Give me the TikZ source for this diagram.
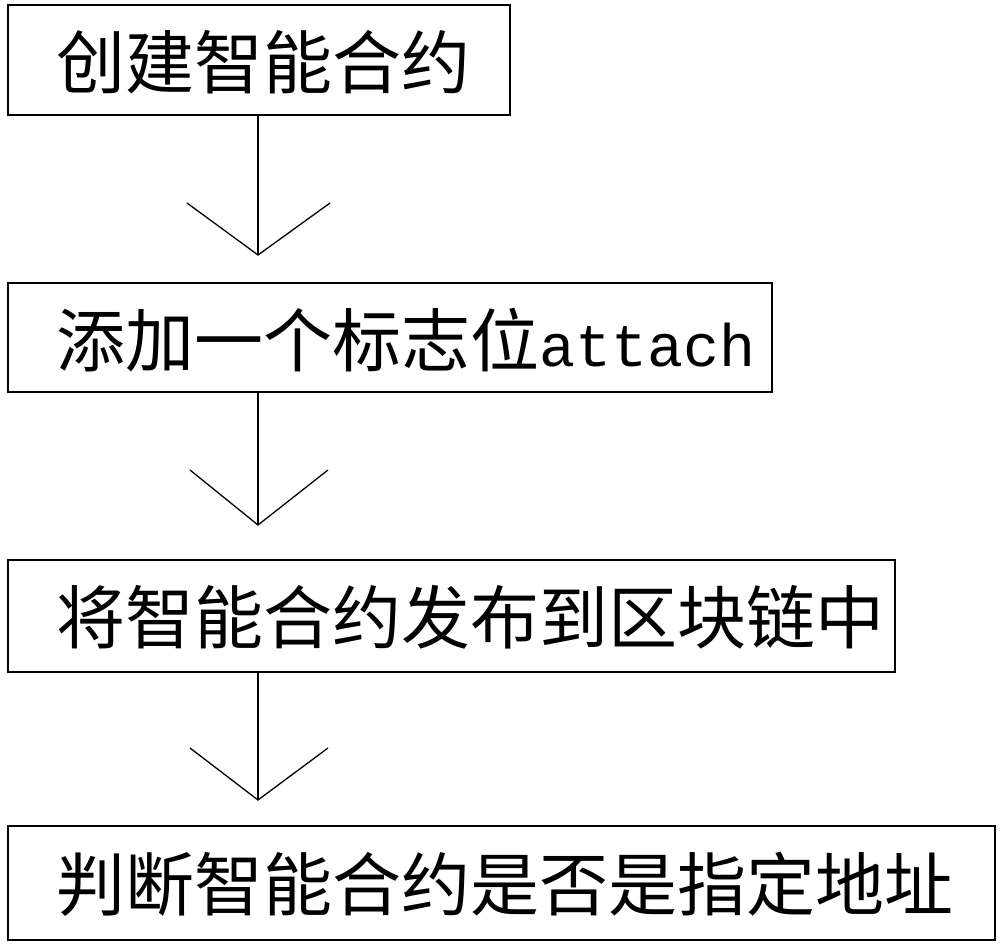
\documentclass[tikz,border=0pt]{standalone}
\usepackage{fontspec}
\newfontfamily\cjk{Noto Sans CJK SC}
\newfontfamily\mono{Liberation Mono}
\begin{document}
\begin{tikzpicture}[x=1pt,y=-1pt,
  box/.style={draw,line width=1.5pt},
  lbl/.style={anchor=west,inner sep=0pt,font=\cjk\fontsize{69}{69}\selectfont},
  conn/.style={line width=1.3pt}]
\useasboundingbox (0,0) rectangle (1000,950);
\draw[box] (8,5) rectangle (510,115);
\draw[box] (8,283) rectangle (772,392);
\draw[box] (8,560) rectangle (895,672);
\draw[box] (8,826) rectangle (995,940);
\node[lbl] (t1) at (56,62) {创建智能合约};
\node[lbl] (t2) at (56,340) {添加一个标志位{\mono\fontsize{60}{60}\selectfont attach}};
\node[lbl] (t3) at (56,617) {将智能合约发布到区块链中};
\node[lbl] (t4) at (56,884) {判断智能合约是否是指定地址};
\coordinate (a1) at (258,115); \coordinate (b1) at (258,255);
\coordinate (a2) at (258,392); \coordinate (b2) at (258,525);
\coordinate (a3) at (258,672); \coordinate (b3) at (258,800);
\draw[conn] (a1) -- (b1); \draw[conn] (187,203) -- (b1) -- (330,203);
\draw[conn] (a2) -- (b2); \draw[conn] (190,470) -- (b2) -- (328,470);
\draw[conn] (a3) -- (b3); \draw[conn] (190,748) -- (b3) -- (328,748);
\end{tikzpicture}
\end{document}
